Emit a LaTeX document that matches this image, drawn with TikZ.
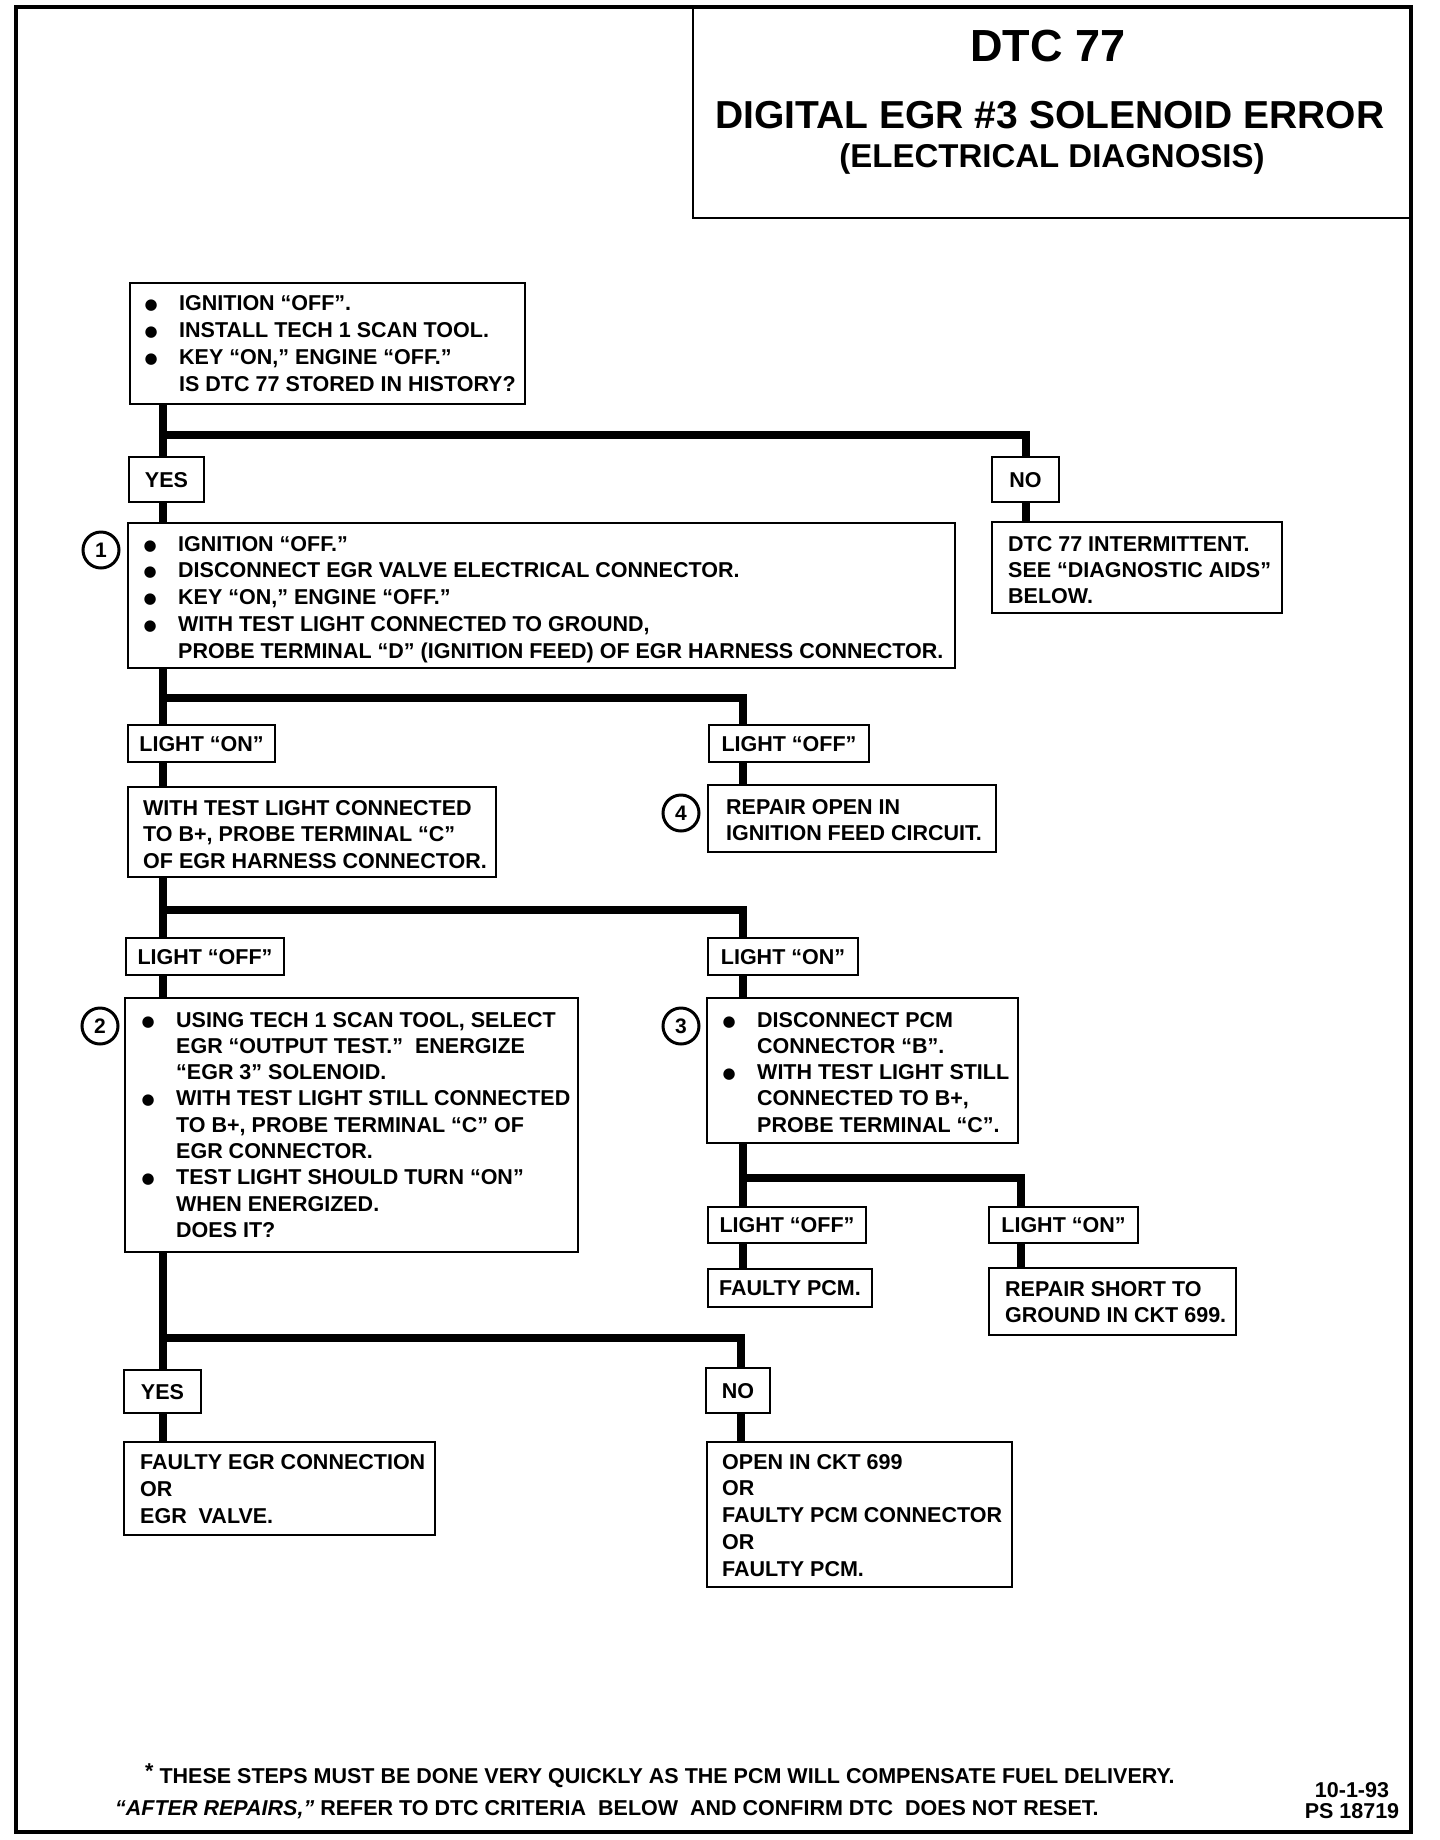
\documentclass[tikz,border=0pt]{standalone}
\usepackage{fontspec}
\setmainfont{Liberation Sans}
\newfontfamily\dvs{DejaVu Sans}
\usetikzlibrary{fit}
\newcommand\fsz{\fontsize{21.5}{26}\selectfont}
\newcommand\bul{\llap{\makebox[0pt]{\raisebox{1pt}{\dvs\fontsize{15}{15}\selectfont ●}}\hspace{28pt}}}
\newcommand\txtlines[5]{\foreach \tx [count=\i] in {#5} {\node[txt] (#1-\i) at (#2,{#3+(\i-1)*#4}) {\tx};}}
\newcommand\lbox[6]{\node[lbl, minimum width={#4-#2}, minimum height={#5-#3}] (#1) at ({(#2+#4)/2},{(#3+#5)/2}) {#6};}
\tikzset{
  frm/.style={draw, line width=3.5pt, inner sep=0pt, rectangle},
  bx/.style={draw, line width=2.8pt, inner sep=0pt, rectangle},
  lbl/.style={draw, line width=2.8pt, inner sep=0pt, rectangle, text height=15.5pt, text depth=0pt, font=\bfseries\fsz},
  txt/.style={anchor=base west, inner sep=0pt, font=\bfseries\fsz},
  conn/.style={line width=8pt},
  numc/.style={circle, draw, line width=3pt, minimum size=36pt, inner sep=0pt, font=\bfseries\fontsize{21}{21}\selectfont},
  ttl/.style={anchor=base, inner sep=0pt, font=\bfseries},
}
\begin{document}
\begin{tikzpicture}[x=1pt,y=-1pt]
\useasboundingbox (0,0) rectangle (1440,1840);
% frame and title
\node[frm, fit={(16,7) (1411,1832)}] (frame) {};
\node[bx, fit={(693,7) (1411,218)}] (title) {};
\node[ttl, font=\bfseries\fontsize{45}{45}\selectfont] (t1) at (1048,61) {DTC 77};
\node[ttl, font=\bfseries\fontsize{39}{39}\selectfont] (t2) at (1050,128) {DIGITAL EGR \#3 SOLENOID ERROR};
\node[ttl, font=\bfseries\fontsize{33}{33}\selectfont] (t3) at (1052,167) {(ELECTRICAL DIAGNOSIS)};

% coordinates of junctions
\coordinate (j1) at (163,435);
\coordinate (j2) at (163,698);  \coordinate (r2) at (743,698);
\coordinate (j3) at (163,910);  \coordinate (r3) at (743,910);
\coordinate (j4) at (743,1178); \coordinate (r4) at (1021,1178);
\coordinate (j5) at (163,1338); \coordinate (r5) at (741,1338);

% boxes
\node[bx, fit={(130,283) (525,404)}] (bA) {};
\txtlines{tA}{179}{310}{27}{{\bul IGNITION “OFF”.},{\bul INSTALL TECH 1 SCAN TOOL.},{\bul KEY “ON,” ENGINE “OFF.”},{IS DTC 77 STORED IN HISTORY?}}

\lbox{yes1}{129}{457}{204}{502}{YES}
\lbox{no1}{992}{457}{1059}{502}{NO}

\node[bx, fit={(992,522) (1282,613)}] (dtc) {};
\txtlines{tD}{1008}{551}{26}{{DTC 77 INTERMITTENT.},{SEE “DIAGNOSTIC AIDS”},{BELOW.}}

\node[numc] (c1) at (101,550) {1};
\node[bx, fit={(128,523) (955,668)}] (b1) {};
\txtlines{t1}{178}{551}{26.8}{{\bul IGNITION “OFF.”},{\bul DISCONNECT EGR VALVE ELECTRICAL CONNECTOR.},{\bul KEY “ON,” ENGINE “OFF.”},{\bul WITH TEST LIGHT CONNECTED TO GROUND,},{PROBE TERMINAL “D” (IGNITION FEED) OF EGR HARNESS CONNECTOR.}}

\lbox{lon1}{128}{725}{275}{762}{LIGHT “ON”}
\lbox{loff1}{709}{725}{869}{762}{LIGHT “OFF”}

\node[bx, fit={(128,787) (496,877)}] (bB) {};
\txtlines{tB}{143}{815}{26.5}{{WITH TEST LIGHT CONNECTED},{TO B+, PROBE TERMINAL “C”},{OF EGR HARNESS CONNECTOR.}}

\node[numc] (c4) at (681,813) {4};
\node[bx, fit={(708,785) (996,852)}] (rep1) {};
\txtlines{tR}{726}{814}{26}{{REPAIR OPEN IN},{IGNITION FEED CIRCUIT.}}

\lbox{loff2}{126}{938}{284}{975}{LIGHT “OFF”}
\lbox{lon2}{708}{938}{858}{975}{LIGHT “ON”}

\node[numc] (c2) at (100,1026) {2};
\node[bx, fit={(125,998) (578,1252)}] (b2) {};
\txtlines{t2}{176}{1027}{26.3}{{\bul USING TECH 1 SCAN TOOL, SELECT},{EGR “OUTPUT TEST.”~ ENERGIZE},{“EGR 3” SOLENOID.},{\bul WITH TEST LIGHT STILL CONNECTED},{TO B+, PROBE TERMINAL “C” OF},{EGR CONNECTOR.},{\bul TEST LIGHT SHOULD TURN “ON”},{WHEN ENERGIZED.},{DOES IT?}}

\node[numc] (c3) at (681,1026) {3};
\node[bx, fit={(707,998) (1018,1143)}] (b3) {};
\txtlines{t3}{757}{1027}{26.3}{{\bul DISCONNECT PCM},{CONNECTOR “B”.},{\bul WITH TEST LIGHT STILL},{CONNECTED TO B+,},{PROBE TERMINAL “C”.}}

\lbox{loff3}{708}{1207}{866}{1243}{LIGHT “OFF”}
\lbox{lon3}{989}{1207}{1138}{1243}{LIGHT “ON”}
\lbox{fpcm}{708}{1269}{872}{1307}{FAULTY PCM.}
\node[bx, fit={(989,1268) (1236,1335)}] (rsh) {};
\txtlines{tS}{1005}{1296}{26}{{REPAIR SHORT TO},{GROUND IN CKT 699.}}

\lbox{yes2}{124}{1370}{201}{1413}{YES}
\lbox{no2}{706}{1368}{770}{1413}{NO}

\node[bx, fit={(124,1442) (435,1535)}] (fegr) {};
\txtlines{tF}{140}{1469}{27}{{FAULTY EGR CONNECTION},{OR},{EGR~ VALVE.}}

\node[bx, fit={(707,1442) (1012,1587)}] (open) {};
\txtlines{tO}{722}{1469}{26.8}{{OPEN IN CKT 699},{OR},{FAULTY PCM CONNECTOR},{OR},{FAULTY PCM.}}

% footer
\node[txt] (f1) at (145,1783) {\raisebox{5pt}{*} THESE STEPS MUST BE DONE VERY QUICKLY AS THE PCM WILL COMPENSATE FUEL DELIVERY.};
\node[txt] (f2) at (115,1815) {\textit{“AFTER REPAIRS,”} REFER TO DTC CRITERIA~ BELOW~ AND CONFIRM DTC~ DOES NOT RESET.};
\node[ttl, font=\bfseries\fsz] (d1) at (1352,1797) {10-1-93};
\node[ttl, font=\bfseries\fsz] (d2) at (1352,1818) {PS 18719};

% connectors
\draw[conn] (bA.south -| j1) -- (yes1.north -| j1);
\draw[conn] (j1) -| (no1.north);
\draw[conn] (no1.south) -- (dtc.north -| no1.south);
\draw[conn] (yes1.south -| j1) -- (b1.north -| j1);

\draw[conn] (b1.south -| j2) -- (lon1.north -| j2);
\draw[conn] (j2) -- (r2) -- (loff1.north -| r2);
\draw[conn] (loff1.south -| r2) -- (rep1.north -| r2);
\draw[conn] (lon1.south -| j2) -- (bB.north -| j2);

\draw[conn] (bB.south -| j3) -- (loff2.north -| j3);
\draw[conn] (j3) -- (r3) -- (lon2.north -| r3);
\draw[conn] (loff2.south -| j3) -- (b2.north -| j3);
\draw[conn] (lon2.south -| r3) -- (b3.north -| r3);

\draw[conn] (b3.south -| j4) -- (loff3.north -| j4);
\draw[conn] (j4) -- (r4) -- (lon3.north -| r4);
\draw[conn] (loff3.south -| j4) -- (fpcm.north -| j4);
\draw[conn] (lon3.south -| r4) -- (rsh.north -| r4);

\draw[conn] (b2.south -| j5) -- (yes2.north -| j5);
\draw[conn] (j5) -- (r5) -- (no2.north -| r5);
\draw[conn] (yes2.south -| j5) -- (fegr.north -| j5);
\draw[conn] (no2.south -| r5) -- (open.north -| r5);
\end{tikzpicture}
\end{document}
